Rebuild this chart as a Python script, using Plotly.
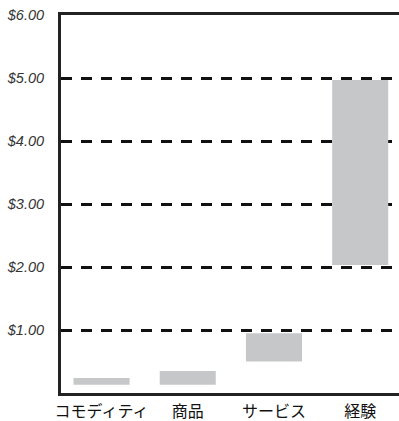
import plotly.graph_objects as go

categories = ["コモディティ", "商品", "サービス", "経験"]
low_values = [0.13, 0.13, 0.50, 2.03]
high_values = [0.24, 0.35, 0.95, 4.97]
tick_values = [1, 2, 3, 4, 5, 6]
tick_labels = ["$1.00", "$2.00", "$3.00", "$4.00", "$5.00", "$6.00"]

fig = go.Figure(go.Bar(
    x=categories,
    y=[h - l for h, l in zip(high_values, low_values)],
    base=low_values,
    marker=dict(color="#c6c7c8", line=dict(width=0)),
    width=0.65,
    hoverinfo="skip",
))

fig.update_layout(
    width=399, height=421,
    margin=dict(l=61, r=0, t=15, b=28),
    paper_bgcolor="white", plot_bgcolor="white",
    showlegend=False,
)
fig.update_yaxes(
    range=[0, 6], tickvals=tick_values, ticktext=tick_labels,
    automargin=False,
    showgrid=True, gridcolor="#111", gridwidth=2.5, griddash="11px,9px",
    zeroline=False,
    showline=True, linecolor="#222", linewidth=3,
    ticks="", ticklabelstandoff=11,
    tickfont=dict(family="Liberation Sans, Arial", size=14.5, color="#333", style="italic"),
)
fig.update_xaxes(
    range=[-0.47, 3.45], automargin=False,
    showgrid=False, showline=True, mirror=True, linecolor="#222", linewidth=3,
    ticks="", ticklabelstandoff=2,
    tickfont=dict(family="Noto Sans CJK JP", size=16, color="#111"),
)
fig.write_html("out.html")
